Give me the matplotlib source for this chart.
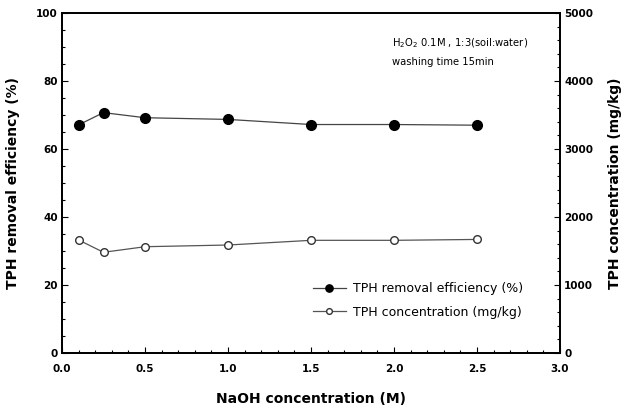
import matplotlib
matplotlib.use("Agg")
import matplotlib.pyplot as plt
from matplotlib.ticker import MultipleLocator

naoh = [0.1, 0.25, 0.5, 1.0, 1.5, 2.0, 2.5]
removal = [67.1, 70.7, 69.2, 68.7, 67.2, 67.2, 67.0]
tph_conc = [1662, 1481, 1563, 1588, 1657, 1657, 1670]

plt.rcParams['font.family'] = ['DejaVu Sans']

fig = plt.figure(figsize=(6.23, 4.12), dpi=100)
ax = fig.add_axes([62/623, 1-353/412, (560-62)/623, (353-13)/412])
ax2 = ax.twinx()

l1, = ax.plot(naoh, removal, color='#444444', lw=0.9, marker='o', ms=7,
              mfc='black', mec='black', label='TPH removal efficiency (%)')
l2, = ax2.plot(naoh, tph_conc, color='#555555', lw=0.9, marker='o', ms=5.5,
               mfc='white', mec='#333333', mew=1.0, label='TPH concentration (mg/kg)')

ax.set_xlim(0, 3.0)
ax.set_ylim(0, 100)
ax2.set_ylim(0, 5000)
ax.xaxis.set_major_locator(MultipleLocator(0.5))
ax.xaxis.set_minor_locator(MultipleLocator(0.1))
ax.yaxis.set_major_locator(MultipleLocator(20))
ax.yaxis.set_minor_locator(MultipleLocator(5))
ax2.yaxis.set_major_locator(MultipleLocator(1000))
ax2.yaxis.set_minor_locator(MultipleLocator(200))

ax.xaxis.set_major_formatter(plt.FuncFormatter(lambda v, p: f"{v:.1f}"))

for a in (ax, ax2):
    a.tick_params(which='both', direction='in', labelsize=7.5, width=0.8)
    a.tick_params(which='major', length=4, pad=3)
    a.tick_params(which='minor', length=2)
    for lab in a.get_xticklabels() + a.get_yticklabels():
        lab.set_fontweight('bold')
    for s in a.spines.values():
        s.set_linewidth(1.3)
ax.tick_params(axis='x', pad=8)

ax.set_xlabel('NaOH concentration (M)', fontsize=10, fontweight='bold')
ax.set_ylabel('TPH removal efficiency (%)', fontsize=10, fontweight='bold')
ax2.set_ylabel('TPH concentration (mg/kg)', fontsize=10, fontweight='bold')
ax.xaxis.set_label_coords(0.5, (353-399)/340)
ax.xaxis.label.set_va('center')
ax.yaxis.set_label_coords((13-62)/498, 0.5)
ax.yaxis.label.set_va('center')
ax2.yaxis.set_label_coords((615-62)/498, 0.5)
ax2.yaxis.label.set_va('center')

fig.text(392/623, 1-43/412, r'H$_2$O$_2$ 0.1M , 1:3(soil:water)', fontsize=7.2, va='center')
fig.text(392/623, 1-62/412, 'washing time 15min', fontsize=7.2, va='center')

leg = ax.legend(handles=[l1, l2], loc='upper left', bbox_to_anchor=(313/623, 1-282/412),
                bbox_transform=fig.transFigure, frameon=False, borderpad=0,
                borderaxespad=0, handlelength=2.6, handletextpad=0.6,
                labelspacing=0.85, markerscale=0.75, prop={'size': 9})

fig.savefig('out.png', dpi=100)
